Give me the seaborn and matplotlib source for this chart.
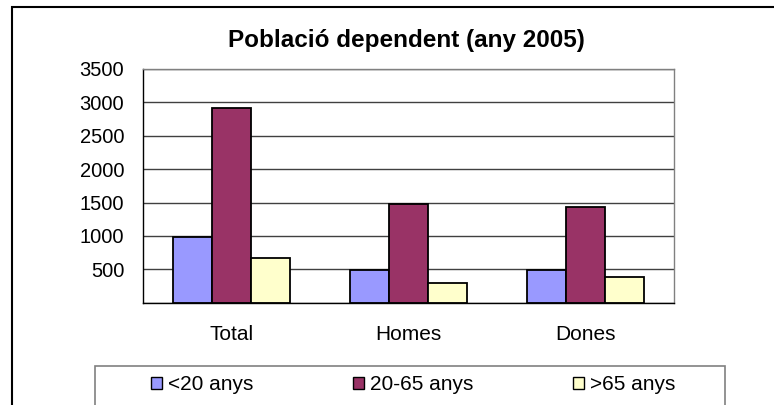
import numpy as np
import pandas as pd
import seaborn as sns
import matplotlib.pyplot as plt
from matplotlib.patches import Rectangle
from matplotlib.ticker import FuncFormatter

# data
categories = ['Total', 'Homes', 'Dones']
groups = ['<20 anys', '20-65 anys', '>65 anys']
under_20 = [980, 490, 490]
from_20_to_65 = [2915, 1485, 1435]
over_65 = [675, 290, 385]
colors = ['#9999FF', '#993366', '#FFFFCC']
yticks = [0, 500, 1000, 1500, 2000, 2500, 3000, 3500]

df = pd.DataFrame({
    'categoria': categories * 3,
    'grup': [g for g in groups for _ in categories],
    'valor': under_20 + from_20_to_65 + over_65,
})

sns.set_style('white')
plt.rcParams['font.family'] = ['Liberation Sans', 'DejaVu Sans']
#seaborn greys the text, the original is plain black
plt.rcParams['text.color'] = 'black'
plt.rcParams['xtick.color'] = 'black'
plt.rcParams['ytick.color'] = 'black'

fig = plt.figure(figsize=(7.74, 4.05), dpi=100)
ax = fig.add_axes([143/774, 1-302.7/405, (674-143)/774, (302.7-69)/405])

# gridlines under the bars
ax.set_axisbelow(True)
ax.yaxis.grid(True, color='#404040', linewidth=1)

sns.barplot(data=df, x='categoria', y='valor', hue='grup', order=categories,
            hue_order=groups, palette=colors, width=0.66, edgecolor='black',
            linewidth=1.3, ax=ax, legend=False, saturation=1)

ax.set_xlim(-0.5, 2.5)
ax.set_ylim(0, 3500)
ax.set_yticks(yticks)
ax.yaxis.set_major_formatter(FuncFormatter(lambda v, p: '' if v == 0 else '%d' % v))
ax.tick_params(axis='y', length=4.5, width=1, color='black', labelcolor='black', pad=9, labelsize=14.5)
ax.set_xticks([0, 1, 2])
ax.set_xticklabels(categories)
ax.tick_params(axis='x', length=0, pad=16, labelsize=15, labelcolor='black')
ax.set_xticks([-0.5, 0.5, 1.5, 2.5], minor=True)
ax.tick_params(axis='x', which='minor', length=4.5, width=1, color='black')
ax.set_xlabel('')
ax.set_ylabel('')

for side in ['left', 'bottom']:
    ax.spines[side].set_color('black')
    ax.spines[side].set_linewidth(1)
for side in ['right', 'top']:
    ax.spines[side].set_visible(True)
    ax.spines[side].set_color('#808080')
    ax.spines[side].set_linewidth(1)

fig.text(0.525, 0.901, 'Població dependent (any 2005)', ha='center', va='center',
         fontsize=17.5, fontweight='bold', color='black')

# outer chart frame (cut off at right and bottom)
fig.patches.append(Rectangle((12/774, -0.2), 1.2, 1.2 - 7/405, transform=fig.transFigure,
                             fill=False, edgecolor='black', linewidth=1.5))
# legend box (cut off at bottom)
fig.patches.append(Rectangle((95/774, -0.2), (725-95)/774, 0.2 + 1 - 366/405,
                             transform=fig.transFigure, fill=False,
                             edgecolor='#808080', linewidth=1.2))

handles = [Rectangle((0, 0), 1, 1, facecolor=c, edgecolor='black', linewidth=1) for c in colors]
fig.legend(handles, groups, loc='center', bbox_to_anchor=(0.534, 1-385/405), ncol=3,
           frameon=False, fontsize=15, handlelength=0.5, handleheight=0.5,
           handletextpad=0.3, columnspacing=4.8, labelcolor='black')

fig.savefig('out.png', dpi=100)
